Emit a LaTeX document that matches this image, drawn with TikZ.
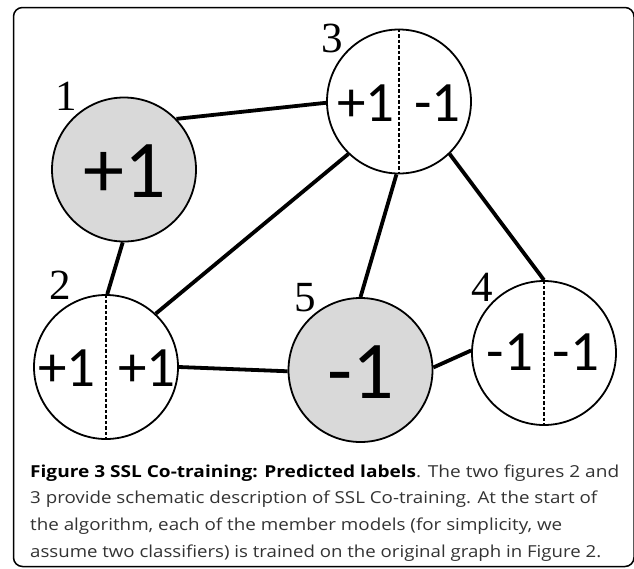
\documentclass[tikz,border=0pt]{standalone}
\usepackage{fontspec}
\usepackage{graphicx}
\setmainfont{Open Sans}
\newfontfamily\numfont{Carlito}
\newfontfamily\idfont{Liberation Serif}

\begin{document}
\begin{tikzpicture}[x=1pt,y=-1pt,
  vertex/.style={circle, draw, line width=1.8pt, minimum size=144pt, inner sep=0pt},
  known/.style={vertex, fill=black!15},
  edge/.style={line width=3.8pt},
  divider/.style={line width=1.3pt, dash pattern=on 3.5pt off 2pt},
  bignum/.style={font=\numfont\fontsize{82}{82}\selectfont, inner sep=0pt},
  smallnum/.style={font=\numfont\fontsize{57}{57}\selectfont, inner sep=0pt},
  idlabel/.style={font=\idfont\fontsize{43}{43}\selectfont, inner sep=0pt},
  captionline/.style={anchor=base west, inner sep=0pt, font=\fontsize{16.5}{20}\selectfont, text=black!80}
]
% canvas and rounded frame
\fill[white] (0,0) rectangle (634,568);
\useasboundingbox (0,0) rectangle (634,568);
\draw[line width=1.5pt, rounded corners=9pt] (13.5,7.5) rectangle (634,566.5);

% graph vertices
\node[known]  (n1) at (124,169.5) {};
\node[vertex] (n3) at (399,101.5) {};
\node[vertex] (n2) at (106,367) {};
\node[known]  (n5) at (360.5,370) {};
\node[vertex] (n4) at (544,353) {};

% dashed dividers of the two-classifier vertices
\draw[divider] (n3.north) -- (n3.south);
\draw[divider] (n2.north) -- (n2.south);
\draw[divider] (n4.north) -- (n4.south);

% vertex values
\node[bignum]   (v1)  at (125,171) {+1};
\node[bignum]   (v5)  at (361,372) {-1};
\node[smallnum] (v3a) at (366,103.5) {+1};
\node[smallnum] (v3b) at (437.5,103.5) {-1};
\node[smallnum] (v2a) at (67,368) {+1};
\node[smallnum] (v2b) at (147,368) {+1};
\node[smallnum] (v4a) at (510,352.5) {-1};
\node[smallnum] (v4b) at (576,352.5) {-1};

% vertex numbers
\node[idlabel] (id1) at (66,96) {1};
\node[idlabel] (id2) at (60,285.5) {2};
\node[idlabel] (id3) at (332,38) {3};
\node[idlabel] (id4) at (482,287) {4};
\node[idlabel] (id5) at (305,297.5) {5};

% graph edges
\draw[edge] (n1.44)  -- (n3.181);
\draw[edge] (n1.269) -- (n2.89);
\draw[edge] (n3.226) -- (n2.47);
\draw[edge] (n3.268) -- (n5.90);
\draw[edge] (n3.314) -- (n4.90);
\draw[edge] (n2.0)   -- (n5.181);
\draw[edge] (n5.2)   -- (n4.178);

% caption
\node[captionline] (c1) at (30,477) {\resizebox{589pt}{\height}{\textcolor{black}{\bfseries Figure 3 SSL Co-training: Predicted labels}. The two figures 2 and}};
\node[captionline] (c2) at (30,503.5) {\resizebox{567pt}{\height}{3 provide schematic description of SSL Co-training. At the start of}};
\node[captionline] (c3) at (30,530) {\resizebox{532pt}{\height}{the algorithm, each of the member models (for simplicity, we}};
\node[captionline] (c4) at (30,557) {\resizebox{571pt}{\height}{assume two classifiers) is trained on the original graph in Figure 2.}};
\end{tikzpicture}
\end{document}
